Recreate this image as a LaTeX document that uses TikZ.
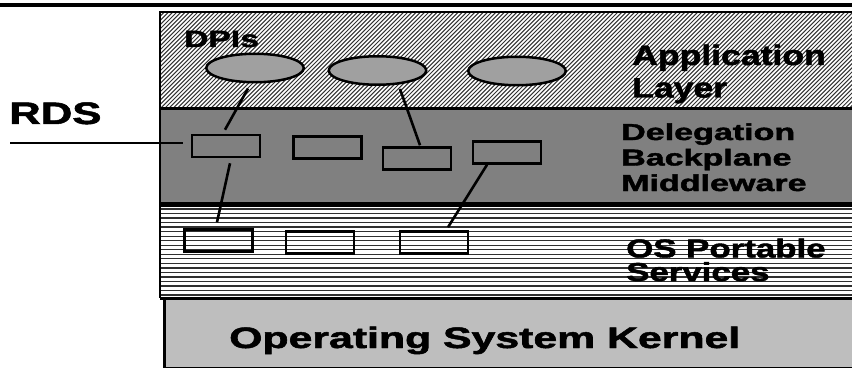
\documentclass[tikz,border=0pt]{standalone}
\usepackage{fontspec}
\setmainfont{Liberation Sans}[BoldFeatures={FakeBold=1.6}]
\usepackage{graphicx}
\usetikzlibrary{shapes.geometric,calc}
\definecolor{ellgray}{HTML}{A0A0A0}
\definecolor{midgray}{HTML}{808080}
\definecolor{kerngray}{HTML}{BEBEBE}
\definecolor{stripe}{HTML}{303030}
\newcommand{\stxt}[3]{\scalebox{#1}[1]{\fontsize{#2}{#2}\selectfont\bfseries #3}}
\tikzset{
  box/.style={draw, line width=2.5pt, inner sep=0pt, minimum width=68pt, minimum height=22pt},
  dpi/.style={ellipse, draw, line width=2.5pt, fill=ellgray, inner sep=0pt, minimum width=97.5pt, minimum height=28.5pt},
  link/.style={line width=2.6pt},
  lbl/.style={anchor=base west, inner sep=0pt, text=black}
}
\begin{document}
\begin{tikzpicture}[x=1pt,y=-1pt]
\useasboundingbox (0,0) rectangle (852,369);
\clip (0,0) rectangle (852,369);
% top rule
\draw[line width=3.5pt] (0,5) -- (852,5);
% application layer hatch
\fill[white] (160,12) rectangle (860,108);
\begin{scope}
  \clip (160,12) rectangle (860,107);
  \foreach \i in {60,64.2,...,880} \draw[line width=1.0pt, black!80] (\i,108) -- (\i+96,12);
\end{scope}
% delegation layer
\fill[midgray] (160,108) rectangle (860,204);
% OS portable services
\fill[white] (160,204) rectangle (860,298);
\foreach \y in {209,213.53,...,295.2} \draw[line width=1.3pt, stripe] (160,\y) -- (860,\y);
% kernel
\fill[kerngray] (163,299) rectangle (860,367.5);
\draw[line width=1.5pt] (163,367.5) -- (860,367.5);
\draw[line width=3pt] (164.5,299) -- (164.5,367.5);
% borders
\draw[line width=2.5pt] (860,12) -- (160,12) -- (160,298);
\draw[line width=2.8pt] (160,108.5) -- (860,108.5);
\draw[line width=4.5pt] (160,204.5) -- (860,204.5);
\draw[line width=3.5pt] (160,298.5) -- (860,298.5);
% DPIs
\node[dpi] (e1) at (255,68) {};
\node[dpi] (e2) at (377.5,70.5) {};
\node[dpi] (e3) at (517,71) {};
% delegation boxes
\node[box] (r1) at (226,146) {};
\node[box] (r2) at (327.5,147.5) {};
\node[box] (r3) at (417,158.5) {};
\node[box] (r4) at (507,152.5) {};
% OS boxes
\node[box] (o1) at (218.5,240.5) {};
\node[box] (o2) at (320,242.5) {};
\node[box] (o3) at (434,242.5) {};
% links
\draw[link] ($(e1.south)+(-7,5)$) -- ($(r1.north)+(-1,-4)$);
\draw[link] ($(r1.south)+(4,5)$) -- ($(o1.north)+(-1.5,-6)$);
\draw[link] ($(e2.south)+(22.5,3)$) -- ($(r3.north)+(3,-1)$);
\draw[link] ($(r4.south)+(-20,0)$) -- ($(o3.north)+(14,-3)$);
% RDS
\node[lbl] (rds) at (9,124) {\stxt{1.41}{31}{RDS}};
\coordinate (rdsend) at (10,143);
\draw[line width=2.2pt] (rdsend) -- ($(r1.west)+(-8,-3)$);
% labels
\node[lbl] (dpis) at (184,47) {\stxt{1.43}{23.5}{DPIs}};
\node[lbl] (app1) at (632,65) {\stxt{1.27}{28}{Application}};
\node[lbl] (app2) at (632,97.5) {\stxt{1.27}{28}{Layer}};
\node[lbl] (del1) at (621,140) {\stxt{1.48}{23}{Delegation}};
\node[lbl] (del2) at (621,165.5) {\stxt{1.48}{23}{Backplane}};
\node[lbl] (del3) at (621,191) {\stxt{1.48}{23}{Middleware}};
\node[lbl] (os1) at (626,257.5) {\stxt{1.34}{26}{OS Portable}};
\node[lbl] (os2) at (626,281) {\stxt{1.34}{26}{Services}};
\node[lbl] (kern) at (229,348) {\stxt{1.45}{29.5}{Operating System Kernel}};
\end{tikzpicture}
\end{document}
